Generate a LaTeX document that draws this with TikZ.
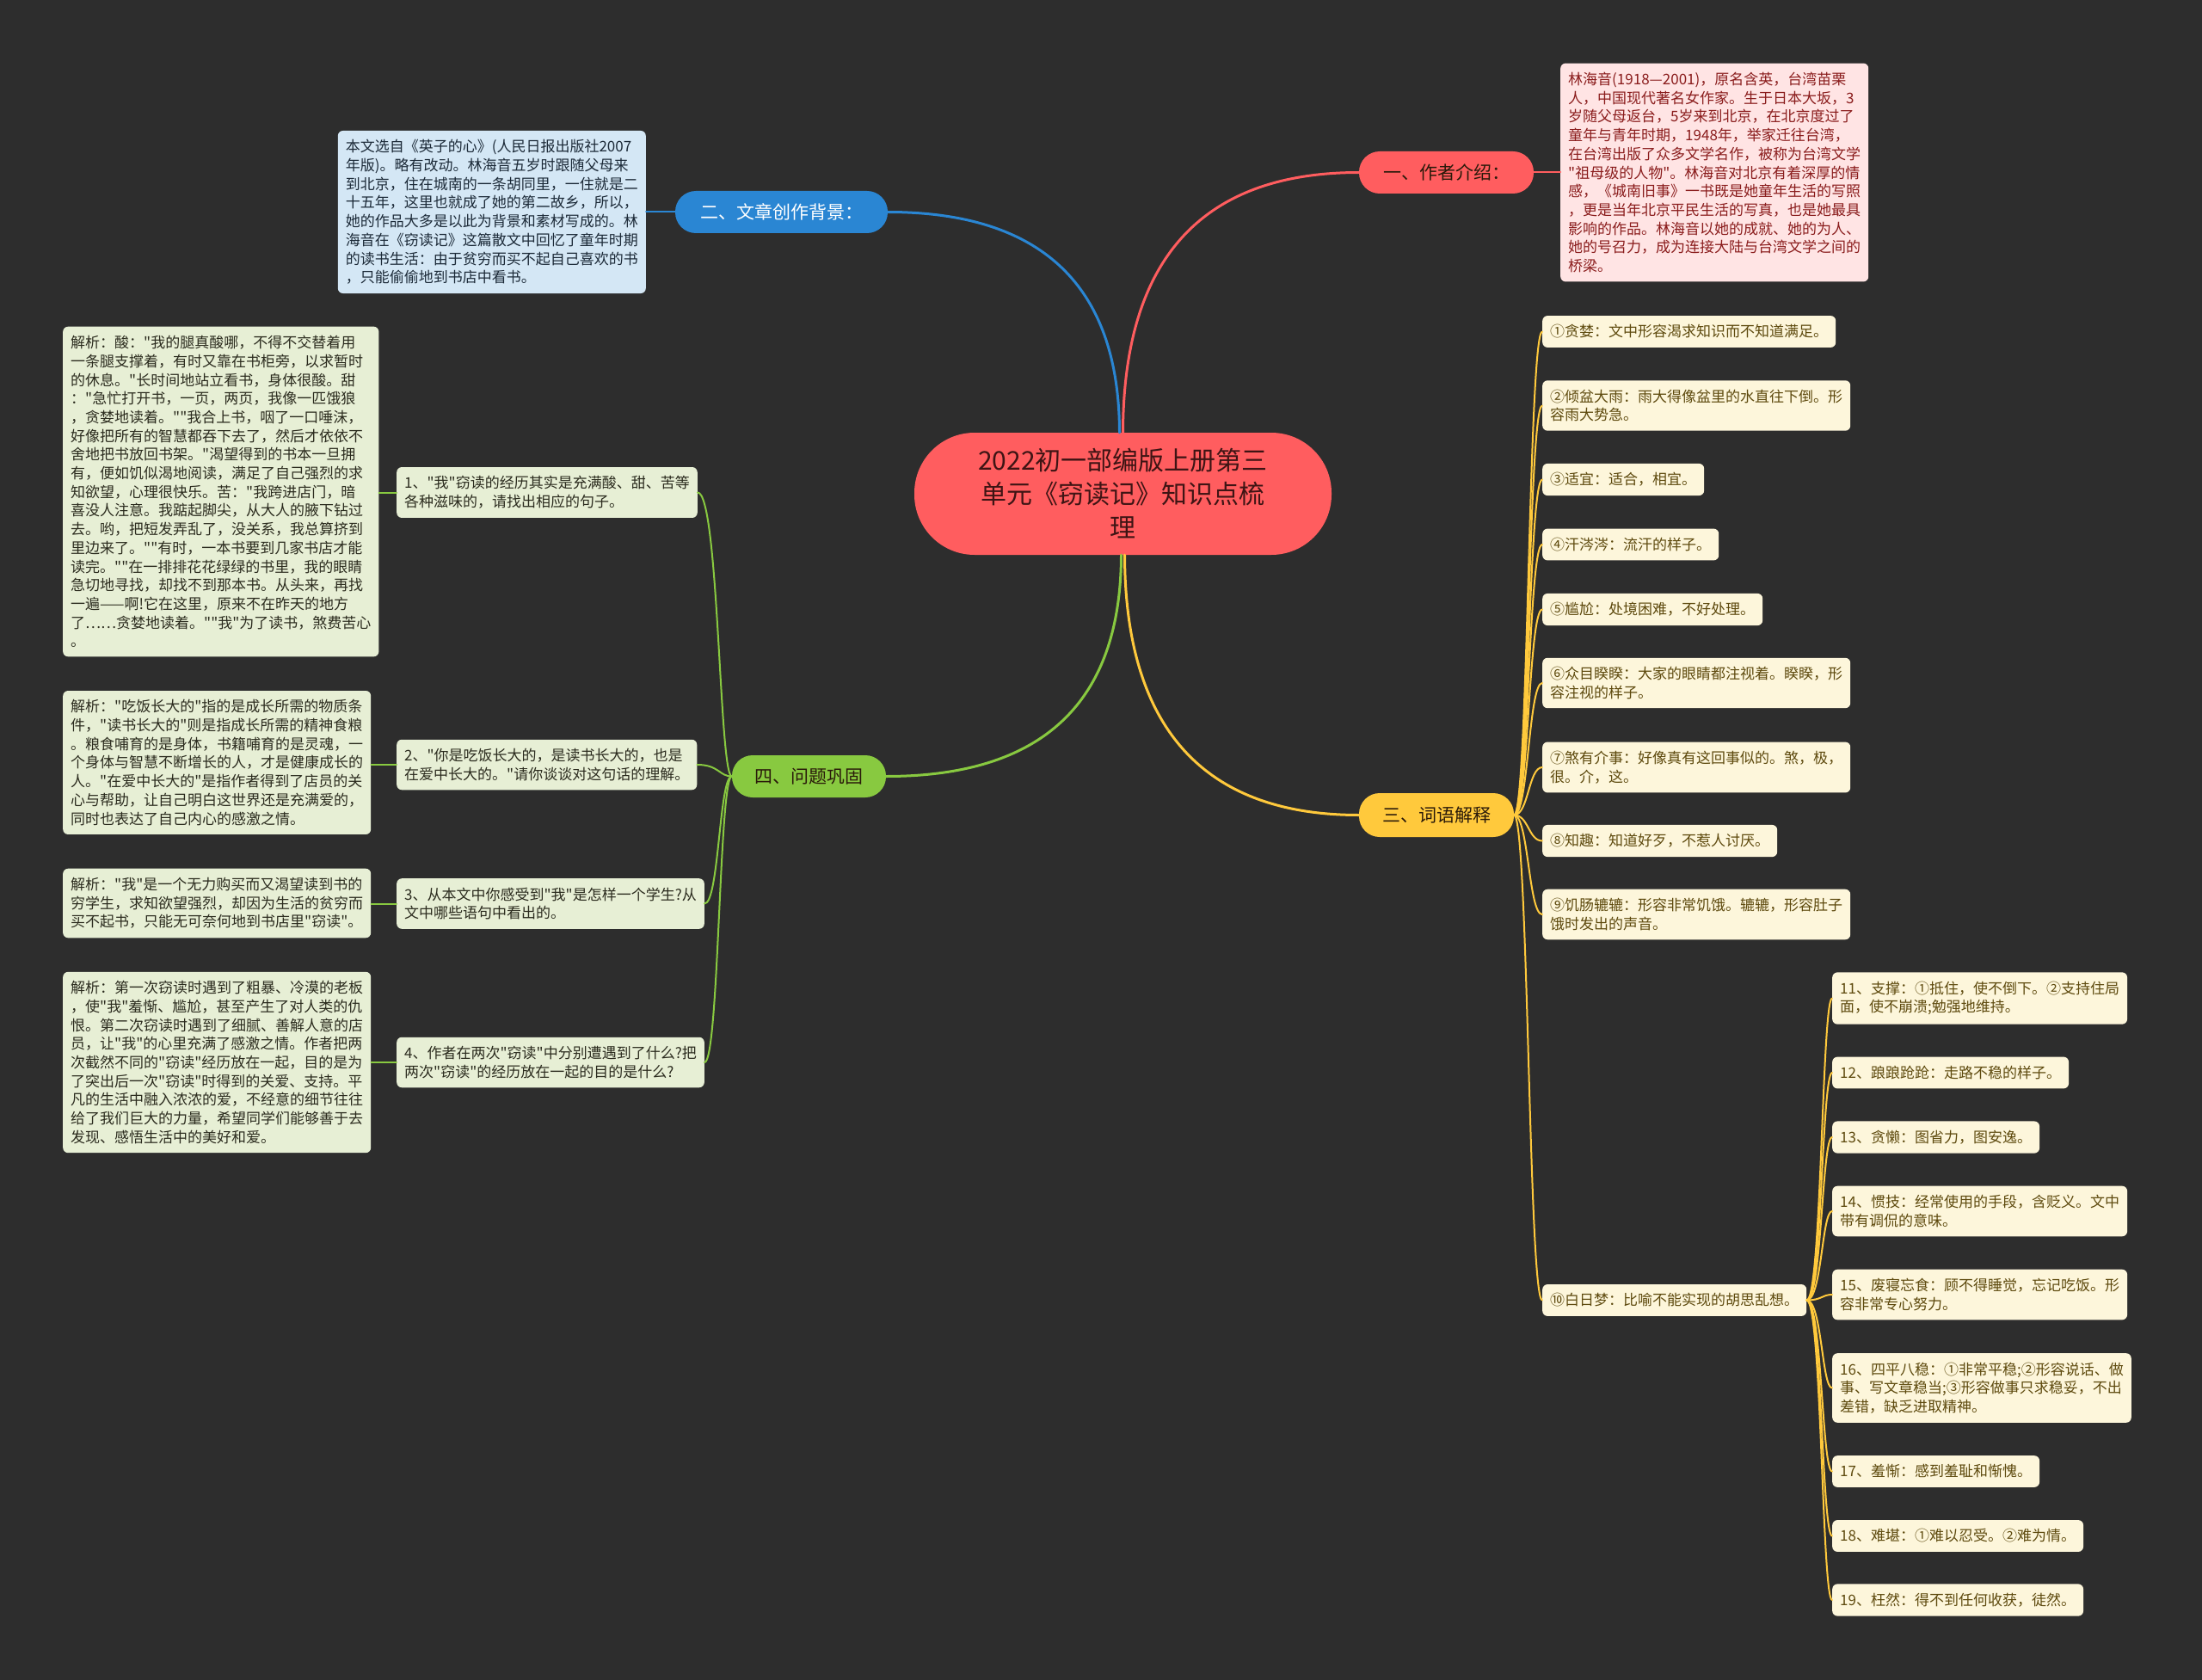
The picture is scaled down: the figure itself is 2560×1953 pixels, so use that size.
\documentclass[tikz,border=0pt]{standalone}
\usepackage{fontspec}
\setmainfont{Noto Sans CJK SC}
\newfontfamily\cjkf{Noto Sans CJK SC}
\usetikzlibrary{calc}
\definecolor{bgc}{HTML}{2D2D2D}
\definecolor{redmain}{HTML}{FF5D5F}
\definecolor{bluemain}{HTML}{2A86D3}
\definecolor{yellowmain}{HTML}{FFC93C}
\definecolor{greenmain}{HTML}{88C940}
\definecolor{pinkfill}{HTML}{FFE4E4}
\definecolor{pinktext}{HTML}{8A1C1C}
\definecolor{bluefill}{HTML}{D4E7F5}
\definecolor{bluetext}{HTML}{1C2A38}
\definecolor{greenfill}{HTML}{E7EFD5}
\definecolor{greentext}{HTML}{2B2B1E}
\definecolor{creamfill}{HTML}{FDF6DB}
\definecolor{creamtext}{HTML}{5E4A0E}
\definecolor{titletext}{HTML}{3E1414}
\definecolor{darktext}{HTML}{2A1A0A}
\tikzset{
  centernode/.style={fill=redmain, text=titletext, rounded corners=70pt, minimum width=485pt, minimum height=142pt, align=center, font=\cjkf\fontsize{30}{39}\selectfont},
  pill/.style={rounded corners=24pt, minimum height=49pt, inner xsep=0pt, font=\cjkf\fontsize{21}{24}\selectfont},
  leafbase/.style={anchor=west, align=left, inner xsep=9pt, inner ysep=10.5pt, rounded corners=6pt, font=\cjkf\fontsize{17}{21.7}\selectfont},
  pinkbox/.style={leafbase, fill=pinkfill, text=pinktext},
  bluebox/.style={leafbase, fill=bluefill, text=bluetext},
  greenbox/.style={leafbase, fill=greenfill, text=greentext},
  creambox/.style={leafbase, fill=creamfill, text=creamtext},
  mainline/.style={line width=3pt, line cap=round},
  leafline/.style={line width=2pt, line cap=round},
}
\begin{document}
\begin{tikzpicture}[x=1pt,y=-1pt]
\fill[bgc] (0,0) rectangle (2560,1953);
\useasboundingbox (0,0) rectangle (2560,1953);

% central topic
\node[centernode] (c) at (1305.5,574) {2022初一部编版上册第三\\单元《窃读记》知识点梳\\理};

% main branches
\node[pill, fill=redmain, text=darktext, minimum width=203pt] (yi) at (1681.5,200.5) {一、作者介绍：};
\node[pill, fill=bluemain, text=white, minimum width=247pt] (er) at (908.5,246.5) {二、文章创作背景：};
\node[pill, fill=yellowmain, text=darktext, minimum width=180pt, minimum height=51pt] (san) at (1670,947.5) {三、词语解释};
\node[pill, fill=greenmain, text=darktext, minimum width=179pt] (si) at (940.5,902.5) {四、问题巩固};

% author
\node[pinkbox] (auth) at (1814,200.5) {林海音(1918—2001)，原名含英，台湾苗栗\\人，中国现代著名女作家。生于日本大坂，3\\岁随父母返台，5岁来到北京，在北京度过了\\童年与青年时期，1948年，举家迁往台湾，\\在台湾出版了众多文学名作，被称为台湾文学\\"祖母级的人物"。林海音对北京有着深厚的情\\感，《城南旧事》一书既是她童年生活的写照\\，更是当年北京平民生活的写真，也是她最具\\影响的作品。林海音以她的成就、她的为人、\\她的号召力，成为连接大陆与台湾文学之间的\\桥梁。};

% background
\node[bluebox, anchor=east] (back) at (751,246.5) {本文选自《英子的心》(人民日报出版社2007\\年版)。略有改动。林海音五岁时跟随父母来\\到北京，住在城南的一条胡同里，一住就是二\\十五年，这里也就成了她的第二故乡，所以，\\她的作品大多是以此为背景和素材写成的。林\\海音在《窃读记》这篇散文中回忆了童年时期\\的读书生活：由于贫穷而买不起自己喜欢的书\\，只能偷偷地到书店中看书。};

% questions
\node[greenbox] (q1) at (461,572.5) {1、"我"窃读的经历其实是充满酸、甜、苦等\\各种滋味的，请找出相应的句子。};
\node[greenbox] (q2) at (461,889) {2、"你是吃饭长大的，是读书长大的，也是\\在爱中长大的。"请你谈谈对这句话的理解。};
\node[greenbox] (q3) at (461,1050.5) {3、从本文中你感受到"我"是怎样一个学生?从\\文中哪些语句中看出的。};
\node[greenbox] (q4) at (461,1235) {4、作者在两次"窃读"中分别遭遇到了什么?把\\两次"窃读"的经历放在一起的目的是什么?};

% answers
\node[greenbox] (a1) at (73,571.5) {解析：酸："我的腿真酸哪，不得不交替着用\\一条腿支撑着，有时又靠在书柜旁，以求暂时\\的休息。"长时间地站立看书，身体很酸。甜\\："急忙打开书，一页，两页，我像一匹饿狼\\，贪婪地读着。""我合上书，咽了一口唾沫，\\好像把所有的智慧都吞下去了，然后才依依不\\舍地把书放回书架。"渴望得到的书本一旦拥\\有，便如饥似渴地阅读，满足了自己强烈的求\\知欲望，心理很快乐。苦："我跨进店门，暗\\喜没人注意。我踮起脚尖，从大人的腋下钻过\\去。哟，把短发弄乱了，没关系，我总算挤到\\里边来了。""有时，一本书要到几家书店才能\\读完。""在一排排花花绿绿的书里，我的眼睛\\急切地寻找，却找不到那本书。从头来，再找\\一遍——啊!它在这里，原来不在昨天的地方\\了……贪婪地读着。""我"为了读书，煞费苦心\\。};
\node[greenbox] (a2) at (73,886.5) {解析："吃饭长大的"指的是成长所需的物质条\\件，"读书长大的"则是指成长所需的精神食粮\\。粮食哺育的是身体，书籍哺育的是灵魂，一\\个身体与智慧不断增长的人，才是健康成长的\\人。"在爱中长大的"是指作者得到了店员的关\\心与帮助，让自己明白这世界还是充满爱的，\\同时也表达了自己内心的感激之情。};
\node[greenbox] (a3) at (73,1050) {解析："我"是一个无力购买而又渴望读到书的\\穷学生，求知欲望强烈，却因为生活的贫穷而\\买不起书，只能无可奈何地到书店里"窃读"。};
\node[greenbox] (a4) at (73,1235) {解析：第一次窃读时遇到了粗暴、冷漠的老板\\，使"我"羞惭、尴尬，甚至产生了对人类的仇\\恨。第二次窃读时遇到了细腻、善解人意的店\\员，让"我"的心里充满了感激之情。作者把两\\次截然不同的"窃读"经历放在一起，目的是为\\了突出后一次"窃读"时得到的关爱、支持。平\\凡的生活中融入浓浓的爱，不经意的细节往往\\给了我们巨大的力量，希望同学们能够善于去\\发现、感悟生活中的美好和爱。};

% vocabulary
\node[creambox] (w1) at (1793,385.5) {①贪婪：文中形容渴求知识而不知道满足。};
\node[creambox] (w2) at (1793,471.5) {②倾盆大雨：雨大得像盆里的水直往下倒。形\\容雨大势急。};
\node[creambox] (w3) at (1793,557.5) {③适宜：适合，相宜。};
\node[creambox] (w4) at (1793,633) {④汗涔涔：流汗的样子。};
\node[creambox] (w5) at (1793,708.5) {⑤尴尬：处境困难，不好处理。};
\node[creambox] (w6) at (1793,794) {⑥众目睽睽：大家的眼睛都注视着。睽睽，形\\容注视的样子。};
\node[creambox] (w7) at (1793,892) {⑦煞有介事：好像真有这回事似的。煞，极，\\很。介，这。};
\node[creambox] (w8) at (1793,977.5) {⑧知趣：知道好歹，不惹人讨厌。};
\node[creambox] (w9) at (1793,1063) {⑨饥肠辘辘：形容非常饥饿。辘辘，形容肚子\\饿时发出的声音。};
\node[creambox] (w10) at (1793,1511.5) {⑩白日梦：比喻不能实现的胡思乱想。};

\node[creambox] (w11) at (2130,1160.5) {11、支撑：①抵住，使不倒下。②支持住局\\面，使不崩溃;勉强地维持。};
\node[creambox] (w12) at (2130,1247) {12、踉踉跄跄：走路不稳的样子。};
\node[creambox] (w13) at (2130,1322) {13、贪懒：图省力，图安逸。};
\node[creambox] (w14) at (2130,1408) {14、惯技：经常使用的手段，含贬义。文中\\带有调侃的意味。};
\node[creambox] (w15) at (2130,1505) {15、废寝忘食：顾不得睡觉，忘记吃饭。形\\容非常专心努力。};
\node[creambox] (w16) at (2130,1613.5) {16、四平八稳：①非常平稳;②形容说话、做\\事、写文章稳当;③形容做事只求稳妥，不出\\差错，缺乏进取精神。};
\node[creambox] (w17) at (2130,1710.5) {17、羞惭：感到羞耻和惭愧。};
\node[creambox] (w18) at (2130,1785.5) {18、难堪：①难以忍受。②难为情。};
\node[creambox] (w19) at (2130,1860) {19、枉然：得不到任何收获，徒然。};

% main connectors
\draw[mainline, redmain] (c.north) .. controls (1306,301) and (1397,200.5) .. (yi.west);
\draw[mainline, bluemain] ([xshift=-4pt]c.north) .. controls (1301,332) and (1211,246.5) .. (er.east);
\draw[mainline, greenmain] ([xshift=-2pt]c.south) .. controls (1303,817) and (1212,902.5) .. (si.east);
\draw[mainline, yellowmain] ([xshift=2pt]c.south) .. controls (1308,846) and (1399,947.5) .. (san.west);

% leaf connectors
\draw[leafline, redmain] (yi.east) -- (auth.west);
\draw[leafline, bluemain] (er.west) -- (back.east);

\coordinate (gj) at (836,902.5);
\foreach \n in {q1,q2,q3,q4}
  \draw[leafline, greenmain] (si.west) .. controls (gj) and (gj |- \n.east) .. (\n.east);
\foreach \q/\a in {q1/a1,q2/a2,q3/a3,q4/a4}
  \draw[leafline, greenmain] (\q.west) -- (\a.east |- \q.west);

\coordinate (sj) at (1777,947.5);
\foreach \n in {w1,w2,w3,w4,w5,w6,w7,w8,w9,w10}
  \draw[leafline, yellowmain] (san.east) .. controls (sj) and (sj |- \n.west) .. (\n.west);

\coordinate (tj) at (2118,1511.5);
\foreach \n in {w11,w12,w13,w14,w15,w16,w17,w18,w19}
  \draw[leafline, yellowmain] (w10.east) .. controls (tj) and (tj |- \n.west) .. (\n.west);
\end{tikzpicture}
\end{document}
